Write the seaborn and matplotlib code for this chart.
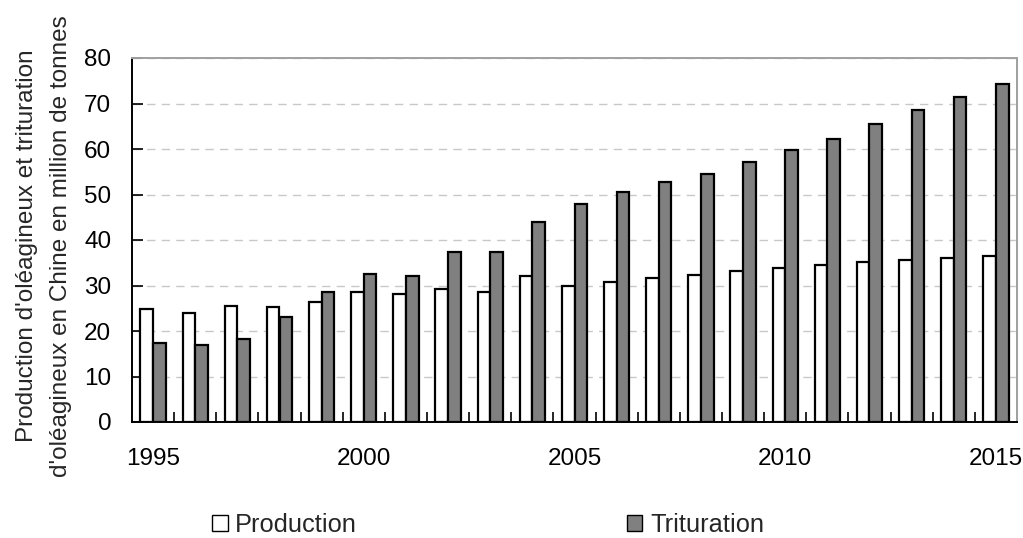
import matplotlib
matplotlib.use("Agg")
import matplotlib.pyplot as plt
import matplotlib.patches as mpatches
import numpy as np
import pandas as pd
import seaborn as sns

years = list(range(1995, 2016))
production = [24.8, 23.9, 25.6, 25.2, 26.4, 28.6, 28.1, 29.2, 28.6, 32.1,
              29.9, 30.8, 31.7, 32.2, 33.1, 33.8, 34.4, 35.2, 35.6, 36.1, 36.5]
trituration = [17.3, 16.9, 18.2, 23.0, 28.6, 32.6, 32.1, 37.4, 37.4, 44.0,
               47.9, 50.5, 52.7, 54.5, 57.1, 59.8, 62.3, 65.4, 68.6, 71.5, 74.3]
series_names = ["Production", "Trituration"]
year_labels = ["1995", "2000", "2005", "2010", "2015"]
ylabel_lines = ["Production d'oléagineux et trituration",
                "d'oléagineux en Chine en million de tonnes"]

df = pd.DataFrame({
    "year": [str(y) for y in years] * 2,
    "value": production + trituration,
    "series": [series_names[0]] * len(years) + [series_names[1]] * len(years),
})

sns.set_theme(style="white")
plt.rcParams["font.family"] = ["Liberation Sans", "DejaVu Sans"]
FS = 17.5

W, H = 1023, 538
fig = plt.figure(figsize=(W / 100, H / 100), dpi=100)
ax = fig.add_axes([132 / W, 1 - 422 / H, (1017 - 132) / W, (422 - 58) / H])

colors = {"Production": "#ffffff", "Trituration": "#808080"}
sns.barplot(data=df, x="year", y="value", hue="series", palette=colors,
            width=0.6, gap=0, edgecolor="black", linewidth=1.6,
            saturation=1, legend=False, ax=ax)

ax.set_xlim(-0.5, len(years) - 0.5)
ax.set_ylim(0, 80)
ax.set_yticks(np.arange(0, 81, 10))
ax.yaxis.grid(True, color="#c8c8c8", linestyle=(0, (6, 4.5)), linewidth=1)
ax.set_axisbelow(True)

label_pos = [years.index(int(y)) for y in year_labels]
ax.set_xticks(label_pos)
ax.set_xticklabels(year_labels)
ax.set_xticks(np.arange(0.5, len(years) - 0.5, 1), minor=True)
ax.tick_params(axis="x", which="major", length=0, pad=19, labelsize=FS, colors="black")
ax.tick_params(axis="x", which="minor", direction="in", length=7, width=1.2,
               color="black", bottom=True)
ax.tick_params(axis="y", direction="in", length=8, width=1.2, color="black",
               left=True, pad=15, labelsize=FS, labelcolor="black")

for side in ["left", "bottom"]:
    ax.spines[side].set_color("black")
    ax.spines[side].set_linewidth(1.4)
for side in ["top", "right"]:
    ax.spines[side].set_visible(True)
    ax.spines[side].set_color("#a0a0a0")
    ax.spines[side].set_linewidth(1.4)

ax.set_xlabel("")
ax.set_ylabel("")

# two-line rotated axis title, each line anchored on its baseline
for text, x_base in zip(ylabel_lines, [33, 67]):
    fig.text(x_base / W, 1 - 246 / H, text, rotation=90, rotation_mode="anchor",
             ha="center", va="baseline", fontsize=FS)

handles = [mpatches.Patch(facecolor=colors[n], edgecolor="black", linewidth=1.0, label=n)
           for n in series_names]
fig.legend(handles=handles, loc="center", ncol=2, frameon=False,
           bbox_to_anchor=(488 / W, 13 / H), fontsize=18.3,
           handlelength=0.62, handleheight=0.62, handletextpad=0.3,
           columnspacing=10.6, borderpad=0.1)

fig.savefig("out.png", dpi=100)
